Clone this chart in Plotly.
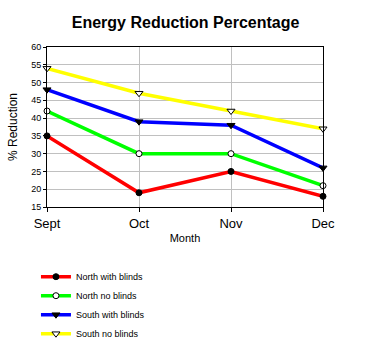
import plotly.graph_objects as go

months = ["Sept", "Oct", "Nov", "Dec"]
north_with = [35, 19, 25, 18]
north_no = [42, 30, 30, 21]
south_with = [48, 39, 38, 26]
south_no = [54, 47, 42, 37]

series = [
    ("North with blinds", north_with, "#ff0000", "circle", "black", 6),
    ("North no blinds", north_no, "#00ff00", "circle", "white", 6),
    ("South with blinds", south_with, "#0000ff", "triangle-down", "black", 7),
    ("South no blinds", south_no, "#ffff00", "triangle-down", "white", 7),
]

fig = go.Figure()
for name, vals, col, sym, fill, sz in series:
    fig.add_trace(go.Scatter(
        x=months, y=vals, name=name, mode="lines+markers",
        line=dict(color=col, width=3.5),
        marker=dict(symbol=sym, size=sz, color=fill, line=dict(color="black", width=1)),
        cliponaxis=False,
    ))

fig.update_layout(
    width=389, height=339,
    margin=dict(l=47, r=66, t=47, b=132, autoexpand=False),
    paper_bgcolor="white", plot_bgcolor="white",
    font=dict(family="Liberation Sans, Arial", color="black", size=9),
    title=dict(text="<b>Energy Reduction Percentage</b>", x=0.477, xanchor="center",
               y=0.935, yanchor="middle", font=dict(size=16)),
    showlegend=True,
    legend=dict(x=-0.04, y=-0.345, xanchor="left", yanchor="top",
                font=dict(size=9), tracegroupgap=0, itemwidth=30,
                bgcolor="rgba(0,0,0,0)"),
    xaxis=dict(
        type="category", range=[0, 3], showgrid=True, gridcolor="#c0c0c0", gridwidth=1,
        showline=True, linecolor="black", linewidth=1, mirror=True,
        ticks="outside", ticklen=4, tickcolor="black", automargin=False,
        tickfont=dict(size=13), zeroline=False, ticklabelstandoff=0,
        title=dict(text="Month", font=dict(size=11), standoff=4),
    ),
    yaxis=dict(
        range=[15, 60], dtick=5, showgrid=True, gridcolor="#c0c0c0", gridwidth=1,
        showline=True, linecolor="black", linewidth=1, mirror=True,
        ticks="outside", ticklen=3, tickcolor="black", zeroline=False, automargin=False,
        tickfont=dict(size=9),
        title=dict(text="% Reduction", font=dict(size=12), standoff=10),
    ),
)

fig.write_html("out.html")
